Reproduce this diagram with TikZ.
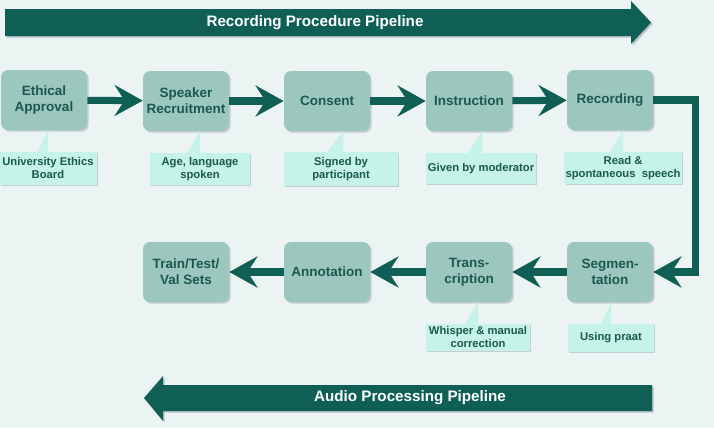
\documentclass[tikz,border=0pt]{standalone}
\usepackage{fontspec}
\setmainfont{Liberation Sans}
\usetikzlibrary{arrows.meta,calc,shadows}
\definecolor{bgcol}{HTML}{EBF4F2}
\definecolor{pipe}{HTML}{0F5F55}
\definecolor{boxfill}{HTML}{9CC7BF}
\definecolor{boxtext}{HTML}{1B584F}
\definecolor{notefill}{HTML}{C6F3E7}
\definecolor{shade}{HTML}{7C8598}
\tikzset{
 stepbox/.style={rectangle,rounded corners=5pt,fill=boxfill,text=boxtext,align=center,
   font=\bfseries\fontsize{9.6}{11.5}\selectfont,minimum width=86*0.025cm,minimum height=60*0.025cm,
   inner sep=1pt,drop shadow={shadow xshift=1.2pt,shadow yshift=-1.2pt,fill=shade,opacity=0.35}},
 note/.style={rectangle,fill=notefill,text=boxtext,align=center,
   font=\bfseries\fontsize{8}{9.6}\selectfont,inner sep=1pt,
   drop shadow={shadow xshift=1pt,shadow yshift=-1pt,fill=shade,opacity=0.35}},
 flow/.style={draw=pipe,line width=5pt,miter limit=10,-{Stealth[length=20pt,width=22pt,inset=7pt,fill=pipe]}},
 banner/.style={fill=pipe,drop shadow={shadow xshift=1.2pt,shadow yshift=-1.2pt,fill=shade,opacity=0.45}}
}
\begin{document}
\begin{tikzpicture}[x=0.025cm,y=-0.025cm]
 \fill[bgcol] (0,0) rectangle (714,428); %background
 \useasboundingbox (0,0) rectangle (714,428);
 % top banner
 \path[banner] (5,9)--(631,9)--(631,1)--(651,22.5)--(631,44)--(631,36)--(5,36)--cycle;
 \node[text=white,font=\bfseries\fontsize{10.8}{12}\selectfont] (rpp) at (315,22.5) {Recording Procedure Pipeline};
 % bottom banner
 \path[banner] (652,385)--(163,385)--(163,376)--(144,398)--(163,421)--(163,411)--(652,411)--cycle;
 \node[text=white,font=\bfseries\fontsize{10.8}{12}\selectfont] (app) at (410,398) {Audio Processing Pipeline};
 % recording steps
 \node[stepbox] (eth) at (44,100) {Ethical\\Approval};
 \node[stepbox] (spk) at (186,101) {Speaker\\Recruitment};
 \node[stepbox] (con) at (327,101) {Consent};
 \node[stepbox] (ins) at (469,101) {Instruction};
 \node[stepbox] (rec) at (610,100) {Recording};
 % audio steps
 \node[stepbox] (seg) at (610,272) {Segmen-\\tation};
 \node[stepbox] (tra) at (469,272) {Trans-\\cription};
 \node[stepbox] (ann) at (327,272) {Annotation};
 \node[stepbox] (set) at (186,272) {Train/Test/\\Val Sets};
 % notes
 \node[note,minimum width=97*0.025cm,minimum height=33*0.025cm] (n1) at (48,168) {University Ethics\\Board};
 \node[note,minimum width=100*0.025cm,minimum height=32*0.025cm] (n2) at (200,169) {Age, language\\spoken};
 \node[note,minimum width=114*0.025cm,minimum height=34*0.025cm] (n3) at (341,169) {Signed by\\participant};
 \node[note,minimum width=110*0.025cm,minimum height=31*0.025cm] (n4) at (481,168.5) {Given by moderator};
 \node[note,minimum width=110*0.025cm,minimum height=32*0.025cm] (n5) at (623,168) {Read \&\\spontaneous\ \ speech};
 \node[note,minimum width=104*0.025cm,minimum height=27*0.025cm] (n6) at (478,337) {Whisper \& manual\\correction};
 \node[note,minimum width=86*0.025cm,minimum height=28*0.025cm] (n7) at (611,338) {Using praat};
 % note pointers
 \fill[notefill] ($(n1.north)+(-10,0.5)$)--($(n1.north)+(0,0.5)$)--(n1.north |- eth.south)--cycle;
 \fill[notefill] ($(n2.north)+(-13,0.5)$)--($(n2.north)+(0,0.5)$)--(n2.north |- spk.south)--cycle;
 \fill[notefill] ($(n3.north)+(-14,0.5)$)--($(n3.north)+(2,0.5)$)--($(n3.north |- con.south)+(2,0)$)--cycle;
 \fill[notefill] ($(n4.north)+(-13,0.5)$)--($(n4.north)+(1,0.5)$)--($(n4.north |- ins.south)+(1,0)$)--cycle;
 \fill[notefill] ($(n5.north)+(-13,0.5)$)--($(n5.north)+(0,0.5)$)--(n5.north |- rec.south)--cycle;
 \fill[notefill] ($(n6.north)+(-13,0.5)$)--($(n6.north)+(0,0.5)$)--(n6.north |- tra.south)--cycle;
 \fill[notefill] ($(n7.north)+(-10,0.5)$)--($(n7.north)+(0,0.5)$)--(n7.north |- seg.south)--cycle;
 % connectors
 \draw[flow] (eth) -- (spk);
 \draw[flow] (spk) -- (con);
 \draw[flow] (con) -- (ins);
 \draw[flow] (ins) -- (rec);
 \draw[flow] (rec.east) -- ++(42,0) |- (seg.east); %turn down
 \draw[flow] (seg) -- (tra);
 \draw[flow] (tra) -- (ann);
 \draw[flow] (ann) -- (set);
\end{tikzpicture}
\end{document}
